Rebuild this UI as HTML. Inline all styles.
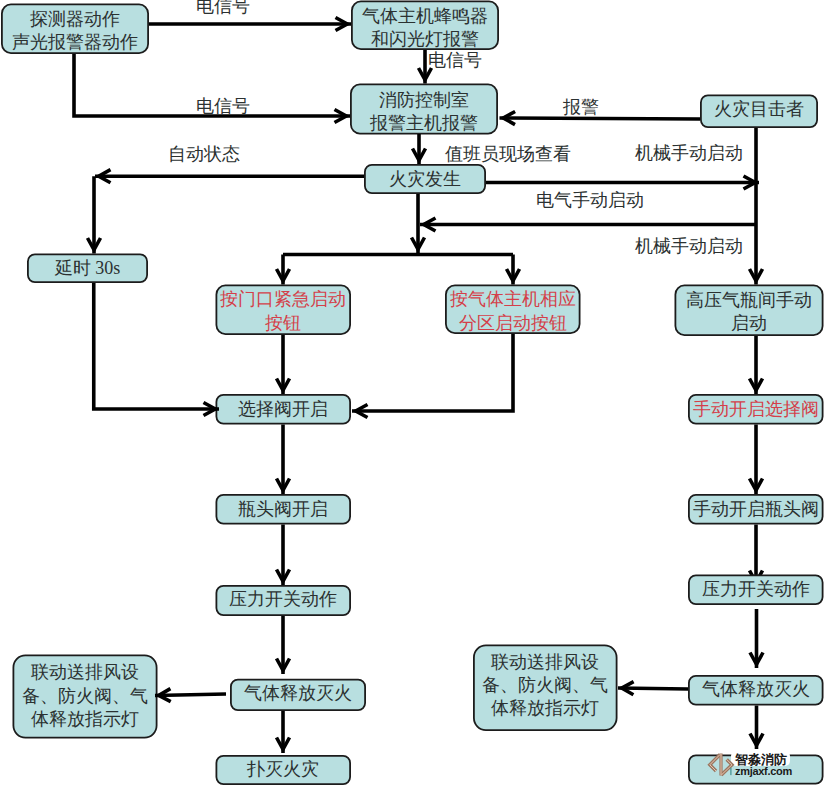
<!DOCTYPE html><html><head><meta charset="utf-8"><style>html,body{margin:0;padding:0;background:#fff;width:825px;height:786px;overflow:hidden}svg{display:block}</style></head><body>
<svg width="825" height="786" viewBox="0 0 825 786" style="font-family:'Liberation Serif',serif">
<rect width="825" height="786" fill="#fff"/>
<path d="M756,524.5 L756,586" fill="none" stroke="#000" stroke-width="3.6" stroke-linejoin="miter"/>
<path d="M749.5,570.5 L756.0,582.3 L762.5,570.5" fill="none" stroke="#000" stroke-width="3.6" stroke-linejoin="miter" stroke-miterlimit="10"/>
<rect x="1.9" y="4.4" width="146.20" height="48.70" rx="9" fill="#B8DFE0" stroke="#1c1c1c" stroke-width="1.8"/>
<text x="75.0" y="24.5" text-anchor="middle" font-size="18" fill="#2b3131">探测器动作</text>
<text x="75.0" y="48.0" text-anchor="middle" font-size="18" fill="#2b3131">声光报警器动作</text>
<rect x="351.9" y="1.4" width="146.20" height="47.70" rx="9" fill="#B8DFE0" stroke="#1c1c1c" stroke-width="1.8"/>
<text x="425.0" y="21.5" text-anchor="middle" font-size="18" fill="#2b3131">气体主机蜂鸣器</text>
<text x="425.0" y="45.25" text-anchor="middle" font-size="18" fill="#2b3131">和闪光灯报警</text>
<rect x="350.9" y="84.4" width="146.20" height="49.20" rx="9" fill="#B8DFE0" stroke="#1c1c1c" stroke-width="1.8"/>
<text x="424.0" y="105.8" text-anchor="middle" font-size="18" fill="#2b3131">消防控制室</text>
<text x="424.0" y="129.0" text-anchor="middle" font-size="18" fill="#2b3131">报警主机报警</text>
<rect x="364.9" y="164.9" width="120.20" height="28.20" rx="7" fill="#B8DFE0" stroke="#1c1c1c" stroke-width="1.8"/>
<text x="425.0" y="184.5" text-anchor="middle" font-size="18" fill="#2b3131">火灾发生</text>
<rect x="700.9" y="95.4" width="116.20" height="31.70" rx="7" fill="#B8DFE0" stroke="#1c1c1c" stroke-width="1.8"/>
<text x="759.0" y="115.25" text-anchor="middle" font-size="18" fill="#2b3131">火灾目击者</text>
<rect x="27.9" y="254.4" width="119.20" height="27.70" rx="7" fill="#B8DFE0" stroke="#1c1c1c" stroke-width="1.8"/>
<text x="87.5" y="274.0" text-anchor="middle" font-size="18" fill="#2b3131">延时 30s</text>
<rect x="216.4" y="285.4" width="133.70" height="48.70" rx="9" fill="#B8DFE0" stroke="#1c1c1c" stroke-width="1.8"/>
<text x="283.25" y="304.5" text-anchor="middle" font-size="18" fill="#D43F4A">按门口紧急启动</text>
<text x="283.25" y="329.0" text-anchor="middle" font-size="18" fill="#D43F4A">按钮</text>
<rect x="445.9" y="285.4" width="133.70" height="47.70" rx="9" fill="#B8DFE0" stroke="#1c1c1c" stroke-width="1.8"/>
<text x="512.75" y="305.25" text-anchor="middle" font-size="18" fill="#D43F4A">按气体主机相应</text>
<text x="512.75" y="329.0" text-anchor="middle" font-size="18" fill="#D43F4A">分区启动按钮</text>
<rect x="675.4" y="285.4" width="147.20" height="49.70" rx="9" fill="#B8DFE0" stroke="#1c1c1c" stroke-width="1.8"/>
<text x="749.0" y="306.25" text-anchor="middle" font-size="18" fill="#2b3131">高压气瓶间手动</text>
<text x="749.0" y="328.75" text-anchor="middle" font-size="18" fill="#2b3131">启动</text>
<rect x="216.4" y="394.9" width="133.70" height="28.70" rx="7" fill="#B8DFE0" stroke="#1c1c1c" stroke-width="1.8"/>
<text x="283.25" y="414.5" text-anchor="middle" font-size="18" fill="#2b3131">选择阀开启</text>
<rect x="688.9" y="394.9" width="133.70" height="28.70" rx="7" fill="#B8DFE0" stroke="#1c1c1c" stroke-width="1.8"/>
<text x="755.75" y="415.0" text-anchor="middle" font-size="18" fill="#D43F4A">手动开启选择阀</text>
<rect x="216.4" y="494.9" width="133.70" height="28.70" rx="7" fill="#B8DFE0" stroke="#1c1c1c" stroke-width="1.8"/>
<text x="283.25" y="515.25" text-anchor="middle" font-size="18" fill="#2b3131">瓶头阀开启</text>
<rect x="688.9" y="494.9" width="133.70" height="28.70" rx="7" fill="#B8DFE0" stroke="#1c1c1c" stroke-width="1.8"/>
<text x="755.75" y="515.25" text-anchor="middle" font-size="18" fill="#2b3131">手动开启瓶头阀</text>
<rect x="216.4" y="585.9" width="133.70" height="29.20" rx="7" fill="#B8DFE0" stroke="#1c1c1c" stroke-width="1.8"/>
<text x="283.25" y="605.25" text-anchor="middle" font-size="18" fill="#2b3131">压力开关动作</text>
<rect x="688.9" y="575.4" width="133.70" height="28.70" rx="7" fill="#B8DFE0" stroke="#1c1c1c" stroke-width="1.8"/>
<text x="755.75" y="595.25" text-anchor="middle" font-size="18" fill="#2b3131">压力开关动作</text>
<rect x="13.4" y="655.4" width="143.20" height="82.20" rx="12" fill="#B8DFE0" stroke="#1c1c1c" stroke-width="1.8"/>
<text x="85.0" y="678.25" text-anchor="middle" font-size="18" fill="#2b3131">联动送排风设</text>
<text x="85.0" y="701.5" text-anchor="middle" font-size="18" fill="#2b3131">备、防火阀、气</text>
<text x="85.0" y="724.5" text-anchor="middle" font-size="18" fill="#2b3131">体释放指示灯</text>
<rect x="230.9" y="679.65" width="134.20" height="30.45" rx="7" fill="#B8DFE0" stroke="#1c1c1c" stroke-width="1.8"/>
<text x="298.0" y="699.0" text-anchor="middle" font-size="18" fill="#2b3131">气体释放灭火</text>
<rect x="216.4" y="755.9" width="133.70" height="28.20" rx="7" fill="#B8DFE0" stroke="#1c1c1c" stroke-width="1.8"/>
<text x="283.25" y="774.5" text-anchor="middle" font-size="18" fill="#2b3131">扑灭火灾</text>
<rect x="473.9" y="645.4" width="142.70" height="84.70" rx="12" fill="#B8DFE0" stroke="#1c1c1c" stroke-width="1.8"/>
<text x="545.25" y="667.5" text-anchor="middle" font-size="18" fill="#2b3131">联动送排风设</text>
<text x="545.25" y="691.0" text-anchor="middle" font-size="18" fill="#2b3131">备、防火阀、气</text>
<text x="545.25" y="714.0" text-anchor="middle" font-size="18" fill="#2b3131">体释放指示灯</text>
<rect x="688.9" y="675.9" width="133.70" height="28.70" rx="7" fill="#B8DFE0" stroke="#1c1c1c" stroke-width="1.8"/>
<text x="755.75" y="694.5" text-anchor="middle" font-size="18" fill="#2b3131">气体释放灭火</text>
<rect x="688.9" y="755.4" width="133.70" height="28.20" rx="7" fill="#B8DFE0" stroke="#1c1c1c" stroke-width="1.8"/>
<path d="M149,24 L351,24" fill="none" stroke="#000" stroke-width="3.6" stroke-linejoin="miter"/>
<path d="M335.5,30.5 L347.3,24.0 L335.5,17.5" fill="none" stroke="#000" stroke-width="3.6" stroke-linejoin="miter" stroke-miterlimit="10"/>
<path d="M74,54 L74,116 L350,116" fill="none" stroke="#000" stroke-width="3.6" stroke-linejoin="miter"/>
<path d="M334.5,122.5 L346.3,116.0 L334.5,109.5" fill="none" stroke="#000" stroke-width="3.6" stroke-linejoin="miter" stroke-miterlimit="10"/>
<path d="M425,50 L425,83.5" fill="none" stroke="#000" stroke-width="3.6" stroke-linejoin="miter"/>
<path d="M418.5,68.0 L425.0,79.8 L431.5,68.0" fill="none" stroke="#000" stroke-width="3.6" stroke-linejoin="miter" stroke-miterlimit="10"/>
<path d="M700,119 L499.5,118" fill="none" stroke="#000" stroke-width="3.6" stroke-linejoin="miter"/>
<path d="M515.1,111.5 L503.2,118.0 L515.0,124.6" fill="none" stroke="#000" stroke-width="3.6" stroke-linejoin="miter" stroke-miterlimit="10"/>
<path d="M419,134 L419,164" fill="none" stroke="#000" stroke-width="3.6" stroke-linejoin="miter"/>
<path d="M412.5,148.5 L419.0,160.3 L425.5,148.5" fill="none" stroke="#000" stroke-width="3.6" stroke-linejoin="miter" stroke-miterlimit="10"/>
<path d="M756,128 L756,284.5" fill="none" stroke="#000" stroke-width="3.6" stroke-linejoin="miter"/>
<path d="M749.5,269.0 L756.0,280.8 L762.5,269.0" fill="none" stroke="#000" stroke-width="3.6" stroke-linejoin="miter" stroke-miterlimit="10"/>
<path d="M486,182.5 L759,182.5" fill="none" stroke="#000" stroke-width="3.6" stroke-linejoin="miter"/>
<path d="M743.5,189.0 L755.3,182.5 L743.5,176.0" fill="none" stroke="#000" stroke-width="3.6" stroke-linejoin="miter" stroke-miterlimit="10"/>
<path d="M756,224.5 L420,224.5" fill="none" stroke="#000" stroke-width="3.6" stroke-linejoin="miter"/>
<path d="M435.5,218.0 L423.7,224.5 L435.5,231.0" fill="none" stroke="#000" stroke-width="3.6" stroke-linejoin="miter" stroke-miterlimit="10"/>
<path d="M418,194 L418,253" fill="none" stroke="#000" stroke-width="3.6" stroke-linejoin="miter"/>
<path d="M411.5,237.5 L418.0,249.3 L424.5,237.5" fill="none" stroke="#000" stroke-width="3.6" stroke-linejoin="miter" stroke-miterlimit="10"/>
<path d="M283,254.5 L513,254.5" fill="none" stroke="#000" stroke-width="3.6" stroke-linejoin="miter"/>
<path d="M283,254.5 L283,284.5" fill="none" stroke="#000" stroke-width="3.6" stroke-linejoin="miter"/>
<path d="M276.5,269.0 L283.0,280.8 L289.5,269.0" fill="none" stroke="#000" stroke-width="3.6" stroke-linejoin="miter" stroke-miterlimit="10"/>
<path d="M513,254.5 L513,284.5" fill="none" stroke="#000" stroke-width="3.6" stroke-linejoin="miter"/>
<path d="M506.5,269.0 L513.0,280.8 L519.5,269.0" fill="none" stroke="#000" stroke-width="3.6" stroke-linejoin="miter" stroke-miterlimit="10"/>
<path d="M364,176.25 L95,176.25" fill="none" stroke="#000" stroke-width="3.6" stroke-linejoin="miter"/>
<path d="M110.5,169.7 L98.7,176.2 L110.5,182.8" fill="none" stroke="#000" stroke-width="3.6" stroke-linejoin="miter" stroke-miterlimit="10"/>
<path d="M94,176.25 L94,253.5" fill="none" stroke="#000" stroke-width="3.6" stroke-linejoin="miter"/>
<path d="M87.5,238.0 L94.0,249.8 L100.5,238.0" fill="none" stroke="#000" stroke-width="3.6" stroke-linejoin="miter" stroke-miterlimit="10"/>
<path d="M93.75,283 L93.75,409 L219,409" fill="none" stroke="#000" stroke-width="3.6" stroke-linejoin="miter"/>
<path d="M203.5,415.5 L215.3,409.0 L203.5,402.5" fill="none" stroke="#000" stroke-width="3.6" stroke-linejoin="miter" stroke-miterlimit="10"/>
<path d="M283,335 L283,394" fill="none" stroke="#000" stroke-width="3.6" stroke-linejoin="miter"/>
<path d="M276.5,378.5 L283.0,390.3 L289.5,378.5" fill="none" stroke="#000" stroke-width="3.6" stroke-linejoin="miter" stroke-miterlimit="10"/>
<path d="M513,334 L513,411 L352,411" fill="none" stroke="#000" stroke-width="3.6" stroke-linejoin="miter"/>
<path d="M367.5,404.5 L355.7,411.0 L367.5,417.5" fill="none" stroke="#000" stroke-width="3.6" stroke-linejoin="miter" stroke-miterlimit="10"/>
<path d="M283,424.5 L283,494" fill="none" stroke="#000" stroke-width="3.6" stroke-linejoin="miter"/>
<path d="M276.5,478.5 L283.0,490.3 L289.5,478.5" fill="none" stroke="#000" stroke-width="3.6" stroke-linejoin="miter" stroke-miterlimit="10"/>
<path d="M283,524.5 L283,585" fill="none" stroke="#000" stroke-width="3.6" stroke-linejoin="miter"/>
<path d="M276.5,569.5 L283.0,581.3 L289.5,569.5" fill="none" stroke="#000" stroke-width="3.6" stroke-linejoin="miter" stroke-miterlimit="10"/>
<path d="M283,616 L283,674" fill="none" stroke="#000" stroke-width="3.6" stroke-linejoin="miter"/>
<path d="M276.5,658.5 L283.0,670.3 L289.5,658.5" fill="none" stroke="#000" stroke-width="3.6" stroke-linejoin="miter" stroke-miterlimit="10"/>
<path d="M226,694 L155,695.5" fill="none" stroke="#000" stroke-width="3.6" stroke-linejoin="miter"/>
<path d="M170.4,688.6 L158.7,695.4 L170.7,701.7" fill="none" stroke="#000" stroke-width="3.6" stroke-linejoin="miter" stroke-miterlimit="10"/>
<path d="M283,711 L283,753" fill="none" stroke="#000" stroke-width="3.6" stroke-linejoin="miter"/>
<path d="M276.5,737.5 L283.0,749.3 L289.5,737.5" fill="none" stroke="#000" stroke-width="3.6" stroke-linejoin="miter" stroke-miterlimit="10"/>
<path d="M756,336 L756,394" fill="none" stroke="#000" stroke-width="3.6" stroke-linejoin="miter"/>
<path d="M749.5,378.5 L756.0,390.3 L762.5,378.5" fill="none" stroke="#000" stroke-width="3.6" stroke-linejoin="miter" stroke-miterlimit="10"/>
<path d="M756,424.5 L756,494" fill="none" stroke="#000" stroke-width="3.6" stroke-linejoin="miter"/>
<path d="M749.5,478.5 L756.0,490.3 L762.5,478.5" fill="none" stroke="#000" stroke-width="3.6" stroke-linejoin="miter" stroke-miterlimit="10"/>
<path d="M756.5,609 L756.5,668" fill="none" stroke="#000" stroke-width="3.6" stroke-linejoin="miter"/>
<path d="M750.0,652.5 L756.5,664.3 L763.0,652.5" fill="none" stroke="#000" stroke-width="3.6" stroke-linejoin="miter" stroke-miterlimit="10"/>
<path d="M688,689 L618,688" fill="none" stroke="#000" stroke-width="3.6" stroke-linejoin="miter"/>
<path d="M633.6,681.7 L621.7,688.1 L633.4,694.8" fill="none" stroke="#000" stroke-width="3.6" stroke-linejoin="miter" stroke-miterlimit="10"/>
<path d="M756.5,705.5 L756.5,749" fill="none" stroke="#000" stroke-width="3.6" stroke-linejoin="miter"/>
<path d="M750.0,733.5 L756.5,745.3 L763.0,733.5" fill="none" stroke="#000" stroke-width="3.6" stroke-linejoin="miter" stroke-miterlimit="10"/>
<text x="222.5" y="11.5" text-anchor="middle" font-size="18" fill="#2b3131">电信号</text>
<text x="222.5" y="111.5" text-anchor="middle" font-size="18" fill="#2b3131">电信号</text>
<text x="455" y="65.5" text-anchor="middle" font-size="18" fill="#2b3131">电信号</text>
<text x="581" y="112.5" text-anchor="middle" font-size="18" fill="#2b3131">报警</text>
<text x="508" y="159.5" text-anchor="middle" font-size="18" fill="#2b3131">值班员现场查看</text>
<text x="689" y="158.5" text-anchor="middle" font-size="18" fill="#2b3131">机械手动启动</text>
<text x="590" y="205.5" text-anchor="middle" font-size="18" fill="#2b3131">电气手动启动</text>
<text x="689" y="251.5" text-anchor="middle" font-size="18" fill="#2b3131">机械手动启动</text>
<text x="204" y="160.0" text-anchor="middle" font-size="18" fill="#2b3131">自动状态</text>
<g>
<rect x="731" y="751" width="59" height="15" rx="5" fill="#fff"/>
<path d="M720,754.5 L709.8,764.8 L716,771" fill="none" stroke="#9C7660" stroke-width="3.4"/>
<path d="M721,753.5 L721,775.5" fill="none" stroke="#9C7660" stroke-width="3.2"/>
<path d="M726.7,759.5 L732,764.8 L721.3,775" fill="none" stroke="#9C7660" stroke-width="3.4"/>
<path d="M720,754.5 L709.8,764.8 L716,771" fill="none" stroke="#E6C6B0" stroke-width="1"/>
<path d="M721,754 L721,775" fill="none" stroke="#E6C6B0" stroke-width="1"/>
<path d="M726.7,759.5 L732,764.8 L721.3,775" fill="none" stroke="#E6C6B0" stroke-width="1"/>
<rect x="730.3" y="767.7" width="1.2" height="7.4" fill="#3f8f8f"/>
<text x="761" y="764" text-anchor="middle" font-size="13" font-weight="bold" fill="#1a1a1a" style="font-family:'Liberation Sans',sans-serif">智淼消防</text>
<text x="763.5" y="775" text-anchor="middle" font-size="11" font-weight="bold" fill="#1a1a1a" style="font-family:'Liberation Sans',sans-serif" letter-spacing="-0.3">zmjaxf.com</text>
</g>
</svg></body></html>
